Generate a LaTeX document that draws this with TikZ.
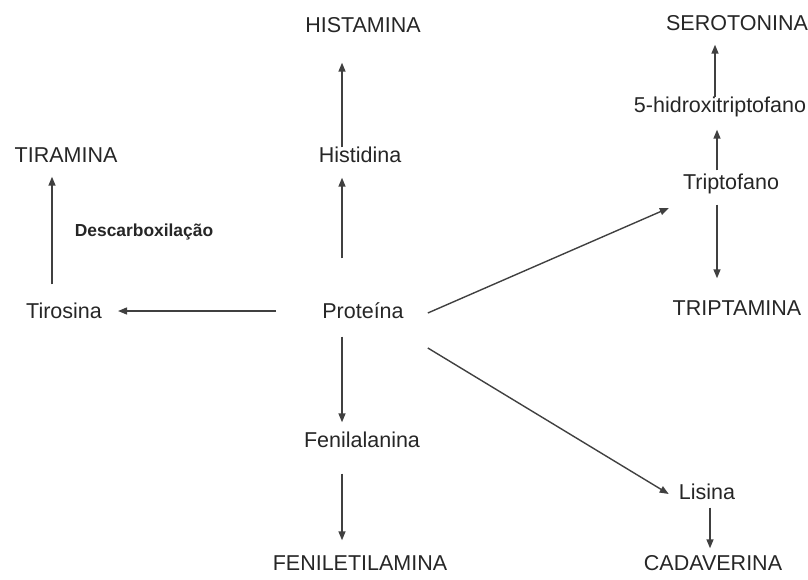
\documentclass[tikz,border=0pt]{standalone}
\usepackage{fontspec}
\setmainfont{Liberation Sans}
\usepackage{tikz}
\usetikzlibrary{arrows.meta}

\definecolor{texto}{HTML}{262626}
\definecolor{seta}{HTML}{404040}

\begin{document}
\begin{tikzpicture}[x=1pt, y=-1pt,
  every node/.style={inner sep=0pt, text height=15pt, text depth=0pt,
    text=texto, font=\fontsize{21.5}{24}\selectfont},
  arr/.style={draw=seta, line width=1.4pt,
    -{Triangle[length=9pt, width=7pt]}}]
  \useasboundingbox (0,0) rectangle (808,580);

  % Centro
  \node (prot) at (363,311) {Proteína};

  % Histidina
  \node (histi) at (360,155) {Histidina};
  \node (hista) at (363,25) {HISTAMINA};
  \coordinate (colH) at (342,0);

  % Tirosina
  \node (tiro) at (64,311) {Tirosina};
  \node (tira) at (66,155) {TIRAMINA};
  \node[font=\bfseries\fontsize{17.4}{20}\selectfont, text height=12pt]
    (desc) at (144,230) {Descarboxilação};
  \coordinate (colT) at (52,0);

  % Triptofano
  \node (tripto) at (731,182) {Triptofano};
  \node (hidro) at (720,105) {5-hidroxitriptofano};
  \node (sero) at (737,23) {SEROTONINA};
  \node (tripta) at (737,308) {TRIPTAMINA};
  \coordinate (colS) at (717,0);

  % Fenilalanina
  \node (feni) at (362,440) {Fenilalanina};
  \node (fenet) at (360,563) {FENILETILAMINA};

  % Lisina
  \node (lis) at (707,492) {Lisina};
  \node (cad) at (713,563) {CADAVERINA};
  \coordinate (colL) at (710,0);

  \draw[arr, shorten <=45pt, shorten >=15pt] (prot.north -| colH) -- (histi.south -| colH);
  \draw[arr, shorten >=30pt] (histi.north -| colH) -- (hista.south -| colH);
  \draw[arr, shorten <=46pt, shorten >=16pt] (prot.west) -- (tiro.east);
  \draw[arr, shorten <=19pt, shorten >=14pt] (tiro.north -| colT) -- (tira.south -| colT);
  \draw[arr] ([xshift=24pt, yshift=-2pt]prot.east) -- ([xshift=-14pt, yshift=-26pt]tripto.west);
  \draw[arr] ([xshift=24pt, yshift=-37pt]prot.east) -- ([xshift=-10pt, yshift=-2pt]lis.west);
  \draw[arr, shorten <=18pt, shorten >=10pt] (prot.south -| colH) -- (feni.north -| colH);
  \draw[arr, shorten <=26pt, shorten >=15pt] (feni.south -| colH) -- (fenet.north -| colH);
  \draw[arr, shorten <=8pt, shorten >=7pt] (lis.south -| colL) -- (cad.north -| colL);
  \draw[arr, shorten <=15pt, shorten >=22pt] (tripto.south -| colS) -- (tripta.north -| colS);
  \draw[arr, shorten <=4pt, shorten >=17pt] (tripto.north -| colS) -- (hidro.south -| colS);
  \draw[arr, shorten >=14pt] ([xshift=-2pt]hidro.north -| colS) -- ([xshift=-2pt]sero.south -| colS);
\end{tikzpicture}
\end{document}
